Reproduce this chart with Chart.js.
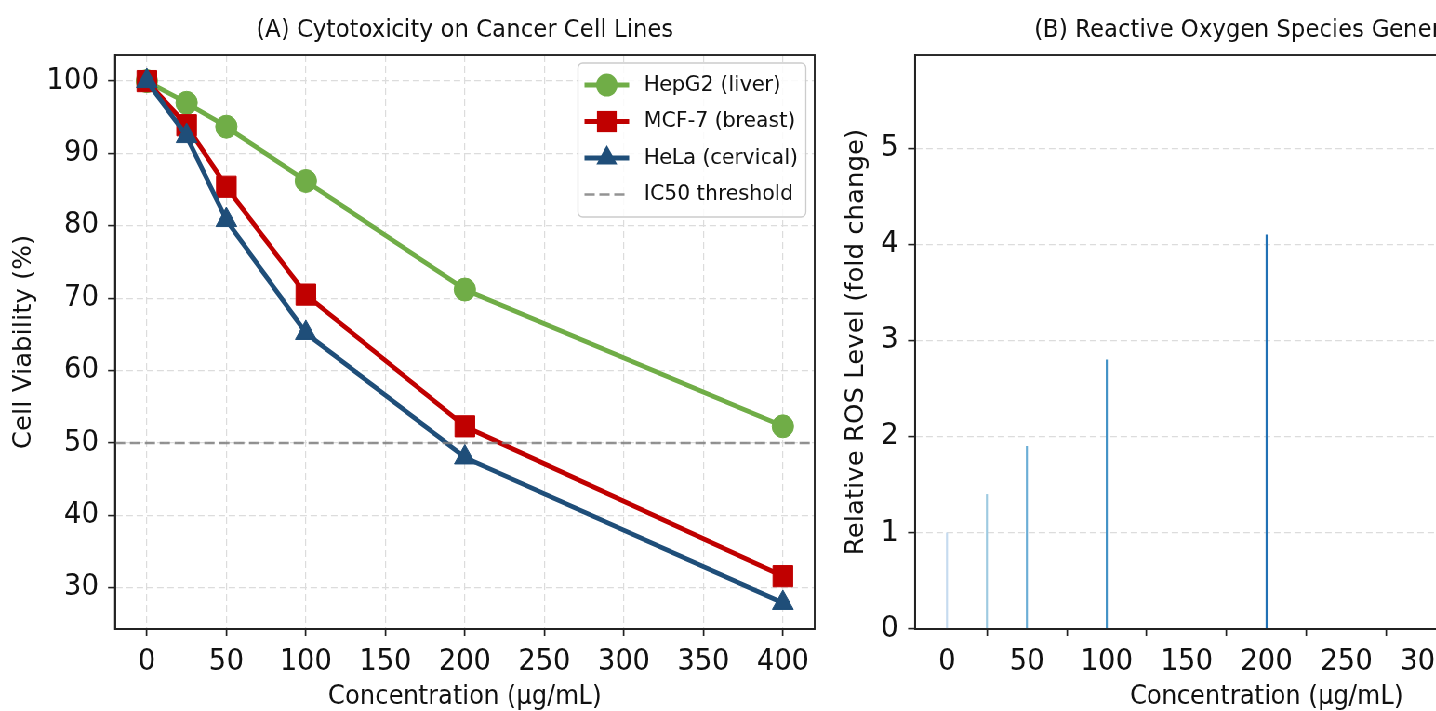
<!DOCTYPE html>
<html>
<head>
<meta charset="utf-8">
<script src="https://cdn.jsdelivr.net/npm/chart.js@4.4.1/dist/chart.umd.min.js"></script>
<style>
  html, body { margin: 0; padding: 0; background: #fff; overflow: hidden; }
  #page { position: relative; width: 1436px; height: 711px; overflow: hidden; }
  /* the source figure is a little squeezed sideways, so squeeze ours the same way */
  #wrap { position: absolute; left: 0; top: 0; width: 1760px; height: 720px; transform: scaleX(0.93); transform-origin: 0 0; }
  canvas { position: absolute; top: 0; }
  #cytoChart { left: 0; }
  #rosChart { left: 892px; }
</style>
</head>
<body>
<div id="page">
<div id="wrap">
  <canvas id="cytoChart" width="892" height="720"></canvas>
  <canvas id="rosChart" width="860" height="720"></canvas>
</div>
</div>
<script>
// data
const concentrations = [0, 25, 50, 100, 200, 400];
const hepg2Viability = [100, 97.0, 93.7, 86.2, 71.2, 52.3];
const mcf7Viability = [100, 93.9, 85.4, 70.5, 52.3, 31.6];
const helaViability = [100, 92.4, 80.8, 65.2, 48.0, 27.9];
const ic50Level = 50;
const rosLevels = [1.0, 1.4, 1.9, 2.8, 4.1, 5.2];
const rosColors = ['#c6dbef', '#9ecae1', '#6baed6', '#4292c6', '#2171b5', '#08519c'];

const xTicks = [0, 50, 100, 150, 200, 250, 300, 350, 400];
const viabilityTicks = [30, 40, 50, 60, 70, 80, 90, 100];
const rosTicks = [0, 1, 2, 3, 4, 5];

const xMin = -20, xMax = 420;

Chart.defaults.font.family = "'DejaVu Sans', sans-serif";
Chart.defaults.color = '#111';

function pairs(values) {
  return concentrations.map((c, i) => ({ x: c, y: values[i] }));
}

//full box round the plot like matplotlib spines
const frame = {
  id: 'frame',
  afterDatasetsDraw(chart) {
    const { ctx, chartArea: a } = chart;
    ctx.save();
    ctx.strokeStyle = '#222';
    ctx.lineWidth = 1.9;
    ctx.strokeRect(a.left, a.top, a.right - a.left, a.bottom - a.top);
    ctx.restore();
  }
};

function drawMarker(ctx, style, x, y, r) {
  ctx.beginPath();
  if (style === 'circle') {
    ctx.arc(x, y, r, 0, Math.PI * 2);
  } else if (style === 'rect') {
    const s = r * Math.SQRT1_2;
    ctx.rect(x - s, y - s, 2 * s, 2 * s);
  } else if (style === 'triangle') {
    ctx.moveTo(x, y - r);
    ctx.lineTo(x + r * Math.sin(2 * Math.PI / 3), y + r / 2);
    ctx.lineTo(x - r * Math.sin(2 * Math.PI / 3), y + r / 2);
    ctx.closePath();
  }
  ctx.fill();
}

//legend in the upper right corner of the plot
const legendBox = {
  id: 'legendBox',
  afterDatasetsDraw(chart) {
    const { ctx, chartArea: a } = chart;
    const w = 245, h = 154;
    const x0 = a.right - 9.5 - w, y0 = a.top + 8;
    ctx.save();
    ctx.beginPath();
    ctx.roundRect(x0, y0, w, h, 5);
    ctx.fillStyle = 'rgba(255,255,255,0.85)';
    ctx.fill();
    ctx.strokeStyle = '#cccccc';
    ctx.lineWidth = 1.3;
    ctx.stroke();

    chart.data.datasets.forEach((ds, i) => {
      const y = y0 + 22 + i * 36.5;
      ctx.save();
      ctx.strokeStyle = ds.borderColor;
      ctx.lineWidth = ds.borderWidth;
      ctx.setLineDash(ds.borderDash || []);
      ctx.beginPath();
      ctx.moveTo(x0 + 7, y);
      ctx.lineTo(x0 + 55, y);
      ctx.stroke();
      ctx.restore();
      if (ds.pointRadius > 0) {
        ctx.fillStyle = ds.borderColor;
        drawMarker(ctx, ds.pointStyle, x0 + 31, y, ds.pointRadius);
      }
      ctx.fillStyle = '#111';
      ctx.font = "22px 'DejaVu Sans', sans-serif";
      ctx.textBaseline = 'middle';
      ctx.textAlign = 'left';
      ctx.fillText(ds.label, x0 + 71, y);
    });
    ctx.restore();
  }
};

const gridX = {
  color: '#dcdcdc',
  lineWidth: 1.2,
  tickColor: '#222',
  tickWidth: 1.7,
  tickLength: 7,
  tickBorderDash: []
};
const gridY = Object.assign({}, gridX, { tickLength: 7.5, tickWidth: 1.6 });
const borderStyle = { color: '#222', width: 1.9, dash: [7, 4] };
const tickFont = { size: 29.5 };
const labelFont = { size: 26 };
const titleFont = { size: 24.6, weight: 'normal' };

// (A) cytotoxicity line chart
new Chart(document.getElementById('cytoChart'), {
  type: 'line',
  data: {
    datasets: [
      {
        label: 'HepG2 (liver)',
        data: pairs(hepg2Viability),
        borderColor: '#70ad47',
        backgroundColor: '#70ad47',
        pointStyle: 'circle',
        pointRadius: 11.5,
        pointBorderWidth: 1,
        borderWidth: 4.9,
        order: 3
      },
      {
        label: 'MCF-7 (breast)',
        data: pairs(mcf7Viability),
        borderColor: '#c00000',
        backgroundColor: '#c00000',
        pointStyle: 'rect',
        pointRadius: 15,
        pointBorderWidth: 1,
        borderWidth: 4.9,
        order: 2
      },
      {
        label: 'HeLa (cervical)',
        data: pairs(helaViability),
        borderColor: '#1f4e79',
        backgroundColor: '#1f4e79',
        pointStyle: 'triangle',
        pointRadius: 13,
        pointBorderWidth: 1,
        borderWidth: 4.9,
        order: 1
      },
      {
        label: 'IC50 threshold',
        data: [{ x: xMin, y: ic50Level }, { x: xMax, y: ic50Level }],
        borderColor: 'rgba(128,128,128,0.85)',
        borderDash: [11, 5],
        borderWidth: 2.5,
        pointRadius: 0,
        order: 0
      }
    ]
  },
  options: {
    responsive: false,
    animation: false,
    layout: { padding: { left: 0, right: 12.4, top: 0, bottom: 7.4 } },
    plugins: {
      legend: { display: false },
      tooltip: { enabled: false },
      title: {
        display: true,
        fullSize: false,
        text: '(A) Cytotoxicity on Cancer Cell Lines',
        font: titleFont,
        color: '#111',
        padding: { top: 16.2, bottom: 9.3 }
      }
    },
    scales: {
      x: {
        type: 'linear',
        min: xMin,
        max: xMax,
        afterBuildTicks: (s) => { s.ticks = xTicks.map(v => ({ value: v })); },
        afterFit: (s) => { s.height = 83.6; },
        ticks: { font: tickFont, padding: 8.3, maxRotation: 0, autoSkip: false, color: '#111' },
        grid: gridX,
        border: borderStyle,
        title: { display: true, text: 'Concentration (µg/mL)', font: labelFont, color: '#111', padding: { top: 0, bottom: 0 } }
      },
      y: {
        min: 24.3,
        max: 103.6,
        afterBuildTicks: (s) => { s.ticks = viabilityTicks.map(v => ({ value: v })); },
        afterFit: (s) => { s.width = 123.7; },
        ticks: { font: tickFont, padding: 10, color: '#111' },
        grid: gridY,
        border: borderStyle,
        title: { display: true, text: 'Cell Viability (%)', font: labelFont, color: '#111', padding: { top: 10.6, bottom: 0 } }
      }
    }
  },
  plugins: [frame, legendBox]
});

// (B) ROS bar chart
new Chart(document.getElementById('rosChart'), {
  type: 'bar',
  data: {
    datasets: [{
      label: 'ROS',
      data: pairs(rosLevels),
      backgroundColor: rosColors,
      borderWidth: 0,
      barThickness: 1.5
    }]
  },
  options: {
    responsive: false,
    animation: false,
    layout: { padding: { left: 0, right: 12, top: 0, bottom: 7.4 } },
    plugins: {
      legend: { display: false },
      tooltip: { enabled: false },
      title: {
        display: true,
        fullSize: false,
        text: '(B) Reactive Oxygen Species Generation',
        font: titleFont,
        color: '#111',
        padding: { top: 16.2, bottom: 9.3 }
      }
    },
    scales: {
      x: {
        type: 'linear',
        min: xMin,
        max: xMax,
        offset: false,
        afterBuildTicks: (s) => { s.ticks = xTicks.map(v => ({ value: v })); },
        afterFit: (s) => { s.height = 83.6; },
        ticks: { font: tickFont, padding: 8.3, maxRotation: 0, autoSkip: false, color: '#111' },
        grid: Object.assign({}, gridX, { drawOnChartArea: false }),
        border: borderStyle,
        title: { display: true, text: 'Concentration (µg/mL)', font: labelFont, color: '#111', padding: { top: 0, bottom: 0 } }
      },
      y: {
        min: 0,
        max: 5.97,
        afterBuildTicks: (s) => { s.ticks = rosTicks.map(v => ({ value: v })); },
        afterFit: (s) => { s.width = 91.9; },
        ticks: { font: tickFont, padding: 10.5, color: '#111' },
        grid: gridY,
        border: borderStyle,
        title: { display: true, text: 'Relative ROS Level (fold change)', font: labelFont, color: '#111', padding: { top: 13.3, bottom: 0 } }
      }
    }
  },
  plugins: [frame]
});
</script>
</body>
</html>
